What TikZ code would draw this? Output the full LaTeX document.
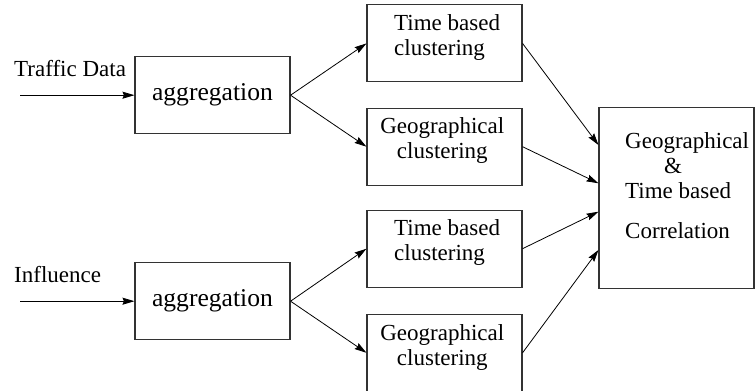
\documentclass[tikz,border=0pt]{standalone}
\usepackage{fontspec}
\setmainfont{Liberation Serif}
\usetikzlibrary{arrows.meta}
\begin{document}
\begin{tikzpicture}[x=1pt,y=-1pt,
  blk/.style={draw=black!80, line width=1.1pt, minimum width=155pt,
    minimum height=77pt, inner sep=0pt},
  txt/.style={inner sep=0pt, font=\fontsize{23}{25}\selectfont},
  bigtxt/.style={font=\fontsize{25.6}{28}\selectfont},
  flow/.style={draw=black, line width=0.8pt,
    -{Stealth[length=12pt,width=7pt,inset=1.5pt]}}]
\useasboundingbox (0,0) rectangle (756,391);

% aggregation stages
\node[blk, bigtxt] (agg1) at (212.5,95.2) {aggregation};
\node[blk, bigtxt] (agg2) at (212.5,301.2) {aggregation};

% clustering stages
\node[blk] (tb1) at (444.5,43.4) {};
\node[blk] (geo1) at (444.5,146.7) {};
\node[blk] (tb2) at (444.5,248.7) {};
\node[blk] (geo2) at (444.5,352.8) {};

% correlation stage
\node[blk, minimum height=181pt] (corr) at (676.5,197.9) {};

% texts of the boxes
\node[txt, anchor=base west] (tt1) at (394,30.7)
  {\begin{tabular}[t]{@{}l@{}}Time based\\clustering\end{tabular}};
\node[txt, anchor=base] (gt1) at (442.3,133.3)
  {\begin{tabular}[t]{@{}c@{}}Geographical\\clustering\end{tabular}};
\node[txt, anchor=base west] (tt2) at (394,235.7)
  {\begin{tabular}[t]{@{}l@{}}Time based\\clustering\end{tabular}};
\node[txt, anchor=base] (gt2) at (442.3,340)
  {\begin{tabular}[t]{@{}c@{}}Geographical\\clustering\end{tabular}};
\node[txt, anchor=base west] (ct) at (625,148.3)
  {\begin{tabular}[t]{@{}l@{}}Geographical\\\hspace*{39pt}\&\\Time based\\[15pt]Correlation\end{tabular}};

% inputs
\node[txt, anchor=base west] (lbl1) at (14,76) {Traffic Data};
\node[txt, anchor=base west] (lbl2) at (14,282) {Influence};
\coordinate (src1) at (20,95.2);
\coordinate (src2) at (20,301.2);

% entry points on the correlation box
\coordinate (c1) at ([yshift=52.9pt]corr.west);
\coordinate (c2) at ([yshift=14.6pt]corr.west);
\coordinate (c3) at ([yshift=-13.8pt]corr.west);
\coordinate (c4) at ([yshift=-52.1pt]corr.west);

% connectors
\draw[flow] (src1) -- (agg1.west);
\draw[flow] (src2) -- (agg2.west);
\draw[flow] (agg1.east) -- (tb1.west);
\draw[flow] (agg1.east) -- (geo1.west);
\draw[flow] (agg2.east) -- (tb2.west);
\draw[flow] (agg2.east) -- (geo2.west);
\draw[flow] (tb1.east) -- (c1);
\draw[flow] (geo1.east) -- (c2);
\draw[flow] (tb2.east) -- (c3);
\draw[flow] (geo2.east) -- (c4);
\end{tikzpicture}
\end{document}
